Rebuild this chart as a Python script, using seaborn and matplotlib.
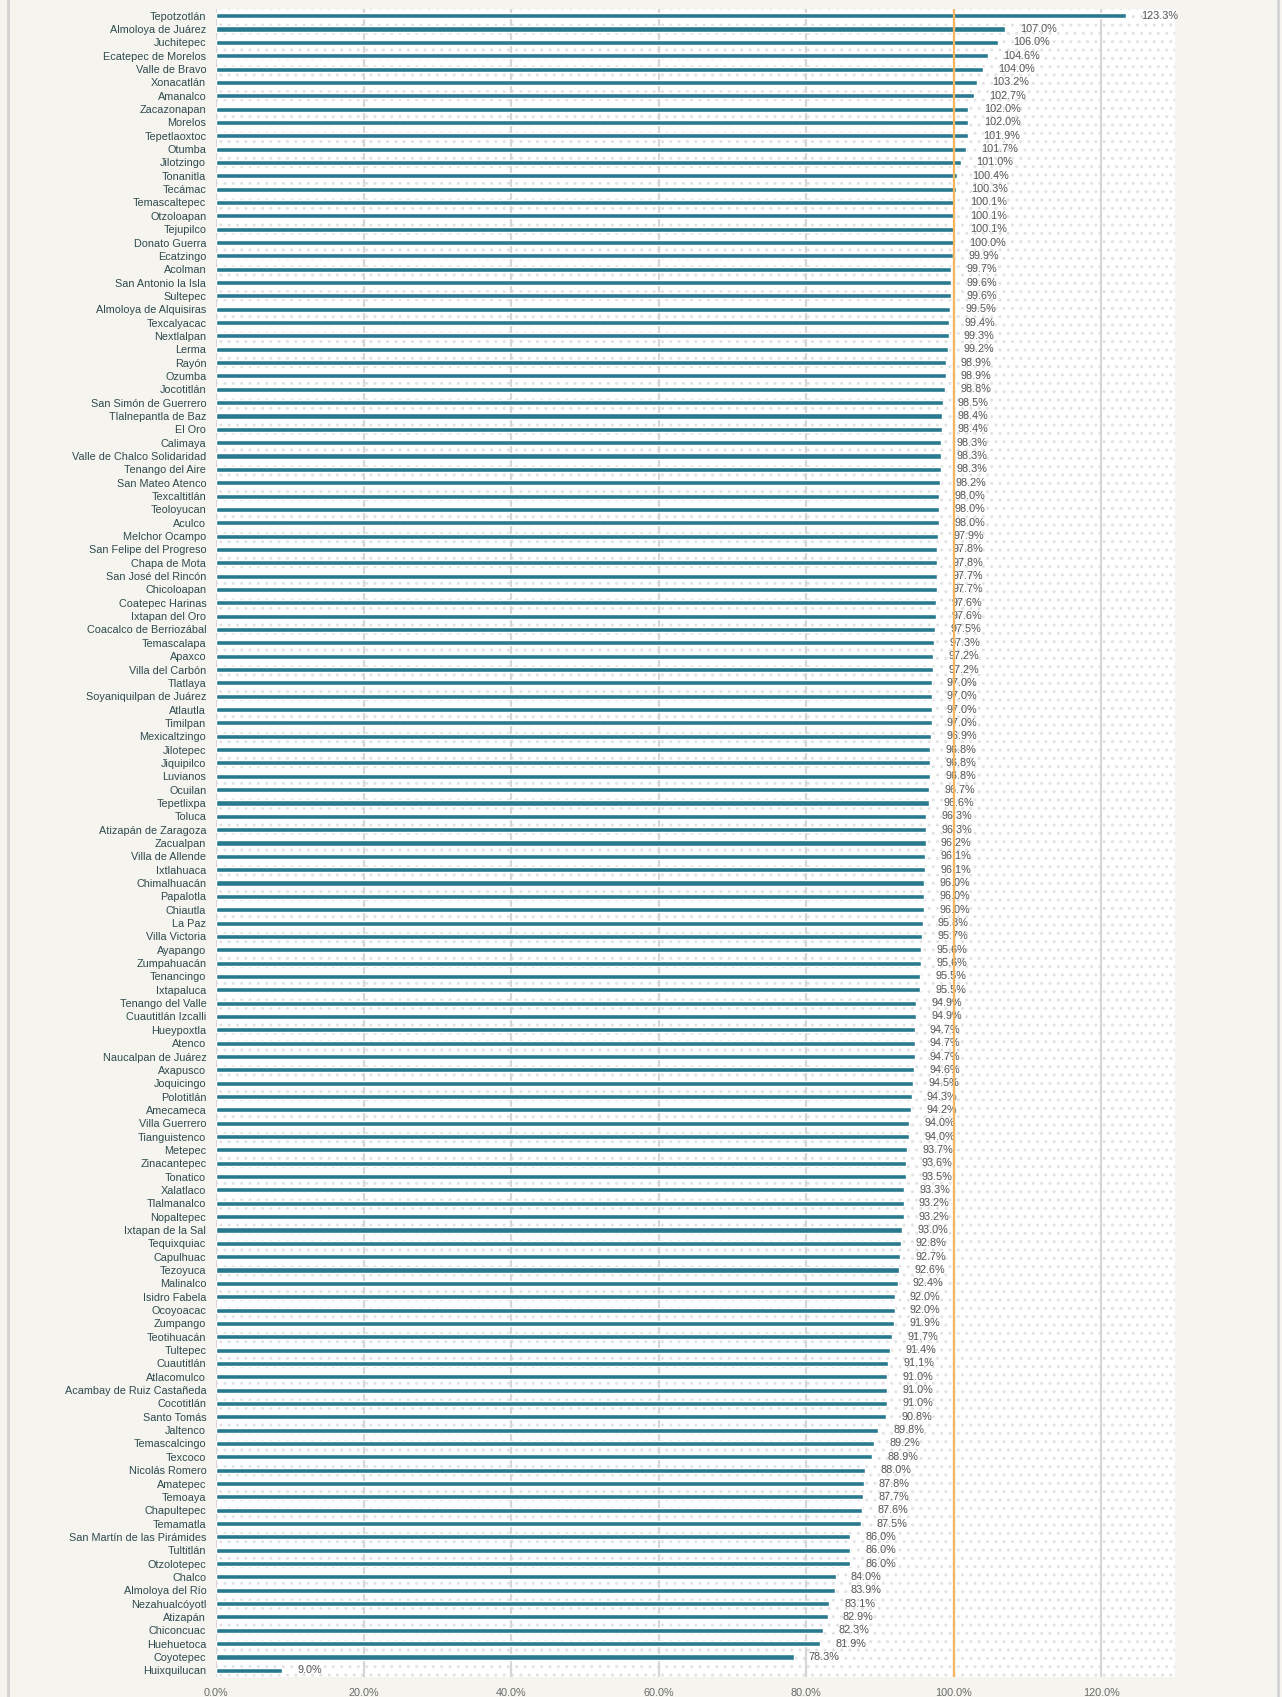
import matplotlib
matplotlib.use("Agg")
import matplotlib.pyplot as plt
import seaborn as sns
import pandas as pd
from matplotlib.patches import Rectangle
from matplotlib.lines import Line2D

# === Data ===
municipios = [
    "Tepotzotlán", "Almoloya de Juárez", "Juchitepec", "Ecatepec de Morelos",
    "Valle de Bravo", "Xonacatlán", "Amanalco", "Zacazonapan", "Morelos",
    "Tepetlaoxtoc", "Otumba", "Jilotzingo", "Tonanitla", "Tecámac",
    "Temascaltepec", "Otzoloapan", "Tejupilco", "Donato Guerra", "Ecatzingo",
    "Acolman", "San Antonio la Isla", "Sultepec", "Almoloya de Alquisiras",
    "Texcalyacac", "Nextlalpan", "Lerma", "Rayón", "Ozumba", "Jocotitlán",
    "San Simón de Guerrero", "Tlalnepantla de Baz", "El Oro", "Calimaya",
    "Valle de Chalco Solidaridad", "Tenango del Aire", "San Mateo Atenco",
    "Texcaltitlán", "Teoloyucan", "Aculco", "Melchor Ocampo",
    "San Felipe del Progreso", "Chapa de Mota", "San José del Rincón",
    "Chicoloapan", "Coatepec Harinas", "Ixtapan del Oro",
    "Coacalco de Berriozábal", "Temascalapa", "Apaxco", "Villa del Carbón",
    "Tlatlaya", "Soyaniquilpan de Juárez", "Atlautla", "Timilpan",
    "Mexicaltzingo", "Jilotepec", "Jiquipilco", "Luvianos", "Ocuilan",
    "Tepetlixpa", "Toluca", "Atizapán de Zaragoza", "Zacualpan",
    "Villa de Allende", "Ixtlahuaca", "Chimalhuacán", "Papalotla", "Chiautla",
    "La Paz", "Villa Victoria", "Ayapango", "Zumpahuacán", "Tenancingo",
    "Ixtapaluca", "Tenango del Valle", "Cuautitlán Izcalli", "Hueypoxtla",
    "Atenco", "Naucalpan de Juárez", "Axapusco", "Joquicingo", "Polotitlán",
    "Amecameca", "Villa Guerrero", "Tianguistenco", "Metepec", "Zinacantepec",
    "Tonatico", "Xalatlaco", "Tlalmanalco", "Nopaltepec", "Ixtapan de la Sal",
    "Tequixquiac", "Capulhuac", "Tezoyuca", "Malinalco", "Isidro Fabela",
    "Ocoyoacac", "Zumpango", "Teotihuacán", "Tultepec", "Cuautitlán",
    "Atlacomulco", "Acambay de Ruiz Castañeda", "Cocotitlán", "Santo Tomás",
    "Jaltenco", "Temascalcingo", "Texcoco", "Nicolás Romero", "Amatepec",
    "Temoaya", "Chapultepec", "Temamatla", "San Martín de las Pirámides",
    "Tultitlán", "Otzolotepec", "Chalco", "Almoloya del Río", "Nezahualcóyotl",
    "Atizapán", "Chiconcuac", "Huehuetoca", "Coyotepec", "Huixquilucan",
]

porcentajes = [
    123.3, 107.0, 106.0, 104.6, 104.0, 103.2, 102.7, 102.0, 102.0, 101.9,
    101.7, 101.0, 100.4, 100.3, 100.1, 100.1, 100.1, 100.0, 99.9, 99.7,
    99.6, 99.6, 99.5, 99.4, 99.3, 99.2, 98.9, 98.9, 98.8, 98.5,
    98.4, 98.4, 98.3, 98.3, 98.3, 98.2, 98.0, 98.0, 98.0, 97.9,
    97.8, 97.8, 97.7, 97.7, 97.6, 97.6, 97.5, 97.3, 97.2, 97.2,
    97.0, 97.0, 97.0, 97.0, 96.9, 96.8, 96.8, 96.8, 96.7, 96.6,
    96.3, 96.3, 96.2, 96.1, 96.1, 96.0, 96.0, 96.0, 95.8, 95.7,
    95.6, 95.6, 95.5, 95.5, 94.9, 94.9, 94.7, 94.7, 94.7, 94.6,
    94.5, 94.3, 94.2, 94.0, 94.0, 93.7, 93.6, 93.5, 93.3, 93.2,
    93.2, 93.0, 92.8, 92.7, 92.6, 92.4, 92.0, 92.0, 91.9, 91.7,
    91.4, 91.1, 91.0, 91.0, 91.0, 90.8, 89.8, 89.2, 88.9, 88.0,
    87.8, 87.7, 87.6, 87.5, 86.0, 86.0, 86.0, 84.0, 83.9, 83.1,
    82.9, 82.3, 81.9, 78.3, 9.0,
]

x_ticks = [0, 20, 40, 60, 80, 100, 120]
meta = 100

df = pd.DataFrame({"municipio": municipios, "pct": porcentajes})

# === Style ===
sns.set_style("white")
plt.rcParams["font.family"] = ["Liberation Sans", "DejaVu Sans"]

bg = "#f5f4ee"
bar_color = "#2a7a8f"

fig = plt.figure(figsize=(12.82, 16.97), dpi=100, facecolor=bg)
ax = fig.add_axes([216 / 1282, 1 - 1677 / 1697, (1175 - 216) / 1282, (1677 - 9) / 1697])
ax.set_facecolor("white")

# dotted background
ax.add_patch(Rectangle((0, 0), 1, 1, transform=ax.transAxes, facecolor="white",
                       edgecolor="#e2e2e2", hatch="..", linewidth=0, zorder=0))

sns.barplot(data=df, x="pct", y="municipio", color=bar_color, width=0.38,
            saturation=1, ax=ax, zorder=2)

ax.set_xlim(0, 130)
ax.set_ylim(len(municipios) - 0.5, -0.5)
ax.set_xticks(x_ticks)
ax.set_xticklabels([f"{t:.1f}%" for t in x_ticks])
ax.set_xlabel("")
ax.set_ylabel("")

ax.grid(axis="x", color="#d6d6d6", linewidth=1.6)
ax.grid(axis="y", visible=False)
ax.set_axisbelow(True)
for s in ax.spines.values():
    s.set_visible(False)

ax.tick_params(axis="y", length=0, pad=7, labelsize=7.8, labelcolor="#2f4a4f")
ax.tick_params(axis="x", length=0, pad=8, labelsize=7.8, labelcolor="#6a6a6a")

# value labels
for i, v in enumerate(porcentajes):
    ax.annotate(f"{v:.1f}%", xy=(v, i), xytext=(11, 0), textcoords="offset points",
                ha="left", va="center", fontsize=7.8, color="#555555", zorder=3)

# target line
ax.axvline(meta, color="#f7b560", linewidth=1.6, zorder=5)

# page frame
fig.add_artist(Line2D([8 / 1282, 8 / 1282], [0, 1], color="#d2d2d2", linewidth=2))
fig.add_artist(Line2D([1278 / 1282, 1278 / 1282], [0, 1], color="#d2d2d2", linewidth=2))

fig.savefig("out.png", dpi=100, facecolor=bg)
